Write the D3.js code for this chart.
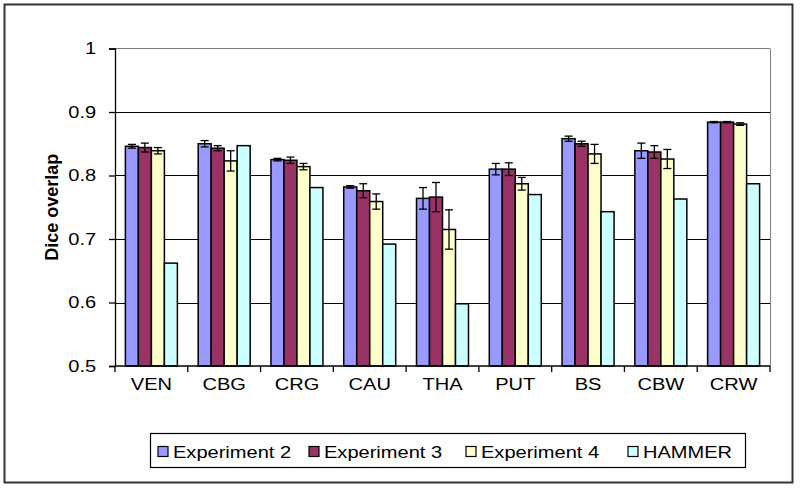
<!DOCTYPE html>
<html><head><meta charset="utf-8">
<script src="https://cdn.jsdelivr.net/npm/d3@7"></script>
<style>body{margin:0;background:#fff} text{font-family:"Liberation Sans",Arial,sans-serif;fill:#000}</style>
</head><body><svg id="c" width="800" height="489"></svg>
<script>
const categories = ["VEN","CBG","CRG","CAU","THA","PUT","BS","CBW","CRW"];
const seriesNames = ["Experiment 2","Experiment 3","Experiment 4","HAMMER"];
const exp2    = [0.846,0.850,0.825,0.782,0.764,0.810,0.858,0.839,0.884];
const exp2Err = [0.003,0.005,0.002,0.002,0.017,0.009,0.004,0.012,0.001];
const exp3    = [0.844,0.843,0.824,0.776,0.766,0.810,0.850,0.837,0.884];
const exp3Err = [0.007,0.004,0.005,0.011,0.023,0.010,0.004,0.010,0.001];
const exp4    = [0.839,0.823,0.814,0.759,0.715,0.787,0.834,0.826,0.881];
const exp4Err = [0.005,0.016,0.005,0.012,0.031,0.010,0.015,0.015,0.002];
const hammer  = [0.662,0.847,0.781,0.692,0.598,0.770,0.743,0.763,0.787];
const yTicks  = [0.5,0.6,0.7,0.8,0.9,1];
const yTickLabels = ["0.5","0.6","0.7","0.8","0.9","1"];
const yTitle = "Dice overlap";

const colors = ["#9999FF","#993366","#FFFFCC","#CCFFFF"];
const seriesVals = [exp2, exp3, exp4, hammer];
const seriesErr  = [exp2Err, exp3Err, exp4Err, null];
const SX = 1.18;

const svg = d3.select("#c");
svg.append("rect").attr("x",0).attr("y",0).attr("width",800).attr("height",489).attr("fill","#fff");
svg.append("rect").attr("x",4.5).attr("y",4.5).attr("width",788).attr("height",478)
  .attr("fill","none").attr("stroke","#333").attr("stroke-width",2);

const L = 115, R = 770, T = 48.5, B = 366;
const x = d3.scaleBand().domain(categories).range([L, R]).padding(0);
const xs = d3.scaleBand().domain(seriesNames).range([0, x.bandwidth()]).paddingInner(0).paddingOuter(0.8);
const y = d3.scaleLinear().domain([0.5, 1]).range([B, T]);

// gridlines
svg.append("g").selectAll("line").data(yTicks.filter(t => t > 0.5 && t < 1)).join("line")
  .attr("x1", L).attr("x2", R).attr("y1", d => Math.round(y(d))+0.5).attr("y2", d => Math.round(y(d))+0.5)
  .attr("stroke","#000").attr("stroke-width",1);
// plot area border (gray) top and right
svg.append("line").attr("x1",L).attr("x2",R).attr("y1",y(1)).attr("y2",y(1)).attr("stroke","#808080").attr("stroke-width",1);
svg.append("line").attr("x1",R+0.5).attr("x2",R+0.5).attr("y1",y(1)).attr("y2",B).attr("stroke","#808080").attr("stroke-width",1);

// bars
seriesNames.forEach((s, si) => {
  const g = svg.append("g");
  g.selectAll("rect").data(categories).join("rect")
    .attr("x", c => x(c) + xs(s))
    .attr("width", xs.bandwidth())
    .attr("y", (c, i) => y(seriesVals[si][i]))
    .attr("height", (c, i) => B - y(seriesVals[si][i]))
    .attr("fill", colors[si]).attr("stroke","#000").attr("stroke-width",1.5);
});
// error bars
seriesNames.forEach((s, si) => {
  if (!seriesErr[si]) return;
  const g = svg.append("g").attr("stroke","#000").attr("stroke-width",1.3);
  categories.forEach((c, i) => {
    const cx = x(c) + xs(s) + xs.bandwidth()/2;
    const v = seriesVals[si][i], e = seriesErr[si][i];
    const y1 = y(v + e), y2 = y(v - e);
    g.append("line").attr("x1",cx).attr("x2",cx).attr("y1",y1).attr("y2",y2);
    g.append("line").attr("x1",cx-4).attr("x2",cx+4).attr("y1",y1).attr("y2",y1);
    g.append("line").attr("x1",cx-4).attr("x2",cx+4).attr("y1",y2).attr("y2",y2);
  });
});

// y axis
const yAxis = d3.axisLeft(y).tickValues(yTicks).tickFormat((d,i) => yTickLabels[i]).tickSize(6).tickPadding(10);
const ya = svg.append("g").attr("transform",`translate(${L},0)`).call(yAxis);
ya.select(".domain").attr("stroke","#000").attr("stroke-width",1.3);
ya.selectAll(".tick line").attr("stroke","#000").attr("stroke-width",1.3);
ya.selectAll(".tick text").attr("font-size",17).attr("font-family","Liberation Sans, Arial, sans-serif")
  .attr("fill","#000").attr("transform",`scale(${SX},1)`);

// x axis
const xa = svg.append("g").attr("transform",`translate(0,${B})`);
xa.append("line").attr("x1",L).attr("x2",R).attr("y1",0).attr("y2",0).attr("stroke","#000").attr("stroke-width",1.3);
const bounds = categories.map(c => x(c)).concat([R]);
xa.selectAll("line.tk").data(bounds).join("line").attr("class","tk")
  .attr("x1", d => d).attr("x2", d => d).attr("y1",0).attr("y2",6).attr("stroke","#000").attr("stroke-width",1.3);
xa.selectAll("text").data(categories).join("text")
  .attr("transform", c => `translate(${x(c)+x.bandwidth()/2},24) scale(${SX},1)`)
  .attr("text-anchor","middle").attr("font-size",17).text(c => c);

// y title
svg.append("text").attr("transform",`translate(58,${(T+B)/2}) rotate(-90)`)
  .attr("text-anchor","middle").attr("font-size",18).attr("font-weight","bold").text(yTitle);

// legend
const lg = svg.append("g");
lg.append("rect").attr("x",150.5).attr("y",433.5).attr("width",595).attr("height",34)
  .attr("fill","#fff").attr("stroke","#000").attr("stroke-width",1.2);
const swX = [158, 309, 466, 628];
seriesNames.forEach((s, si) => {
  lg.append("rect").attr("x",swX[si]).attr("y",446.5).attr("width",10).attr("height",10)
    .attr("fill",colors[si]).attr("stroke","#000").attr("stroke-width",1.2);
  lg.append("text").attr("transform",`translate(${swX[si]+15},458) scale(${SX},1)`)
    .attr("font-size",17).text(s);
});
</script></body></html>
